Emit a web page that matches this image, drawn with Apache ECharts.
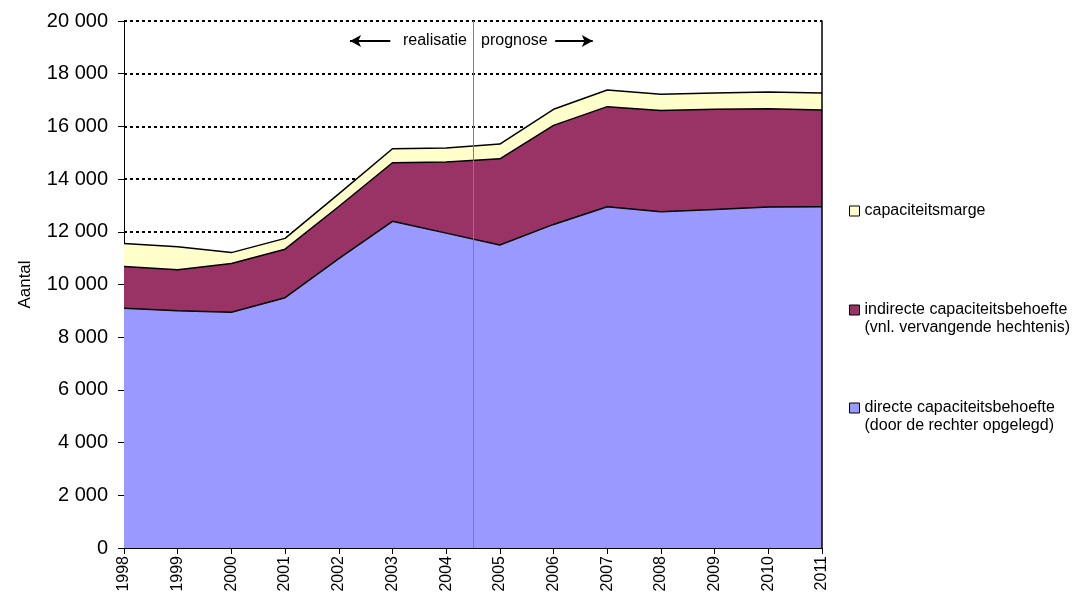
<!DOCTYPE html>
<html>
<head>
<meta charset="utf-8">
<script src="https://cdn.jsdelivr.net/npm/echarts@6/dist/echarts.min.js"></script>
<style>
  html, body { margin: 0; padding: 0; background: #fff; }
  #chart { width: 1085px; height: 596px; }
</style>
</head>
<body>
<div id="chart"></div>
<script>
// jaren (x-as)
const years = ["1998", "1999", "2000", "2001", "2002", "2003", "2004", "2005", "2006", "2007", "2008", "2009", "2010", "2011"];
// directe capaciteitsbehoefte
const direct = [9100, 9000, 8950, 9500, 10980, 12400, 11950, 11500, 12280, 12950, 12760, 12850, 12940, 12950];
// indirecte capaciteitsbehoefte
const indirect = [1580, 1560, 1850, 1840, 1980, 2220, 2700, 3270, 3760, 3800, 3840, 3800, 3730, 3670];
// capaciteitsmarge
const marge = [880, 870, 410, 410, 480, 530, 530, 560, 610, 630, 620, 620, 640, 650];
// y-as ticks
const yTicks = [0, 2000, 4000, 6000, 8000, 10000, 12000, 14000, 16000, 18000, 20000];

const FONT = "Liberation Sans";
const names = {
    marge: "capaciteitsmarge",
    indirect: "indirecte capaciteitsbehoefte\n(vnl. vervangende hechtenis)",
    direct: "directe capaciteitsbehoefte\n(door de rechter opgelegd)",
};

const fmt = v => String(v).replace(/\B(?=(\d{3})+(?!\d))/g, " ");

const area = (name, arr, color) => ({
    name,
    type: "line",
    stack: "totaal",
    data: arr,
    symbol: "none",
    lineStyle: { color: "#000", width: 1.5 },
    areaStyle: { color, opacity: 1 },
    itemStyle: { color, borderColor: "#000", borderWidth: 1 },
    emphasis: { disabled: true },
    animation: false,
});

// tweeregelige items: lege eerste regel zodat het icoon bij de eerste tekstregel staat
const legendItem = (name, top) => ({
    data: [name],
    orient: "vertical",
    left: 844,
    top,
    icon: "rect",
    itemWidth: 10,
    itemHeight: 10,
    itemGap: 0,
    selectedMode: false,
    formatter: n => (n.includes("\n") ? "\n" + n : n),
    itemStyle: { borderColor: "#000", borderWidth: 1 },
    textStyle: { fontFamily: FONT, fontSize: 16, color: "#000", lineHeight: 18 },
});

const chart = echarts.init(document.getElementById("chart"), null, { renderer: "canvas" });

chart.setOption({
    animation: false,
    backgroundColor: "#fff",
    textStyle: { fontFamily: FONT },
    grid: { left: 124, right: 263, top: 21, bottom: 48 },
    legend: [
        legendItem(names.marge, 197),
        legendItem(names.indirect, 278),
        legendItem(names.direct, 376),
    ],
    xAxis: [
        {
            type: "category",
            data: years,
            boundaryGap: false,
            axisLine: { show: true, lineStyle: { color: "#000", width: 1 } },
            axisTick: { show: true, length: 6, alignWithLabel: true, lineStyle: { color: "#000" } },
            splitLine: { show: false },
            axisLabel: {
                rotate: 90,
                margin: 8,
                interval: 0,
                fontFamily: FONT,
                fontSize: 16,
                color: "#000",
            },
        },
        {
            // hulpas voor de scheidingslijn en pijlen
            type: "value",
            min: Number(years[0]),
            max: Number(years[years.length - 1]),
            show: false,
        },
    ],
    yAxis: [
        {
            type: "value",
            min: yTicks[0],
            max: yTicks[yTicks.length - 1],
            interval: 2000,
            name: "Aantal",
            nameLocation: "middle",
            nameRotate: 90,
            nameGap: 90,
            nameTextStyle: { fontFamily: FONT, fontSize: 17, color: "#000" },
            axisLine: { show: true, lineStyle: { color: "#000", width: 1 } },
            axisTick: { show: true, length: 6, lineStyle: { color: "#000" } },
            splitLine: { show: true, lineStyle: { color: "#000", width: 2, type: [3, 3] } },
            axisLabel: {
                margin: 16,
                fontFamily: FONT,
                fontSize: 20,
                color: "#000",
                formatter: v => fmt(v),
            },
        },
        {
            type: "value",
            position: "right",
            min: 0,
            max: 20000,
            interval: 2000,
            z: 10,
            axisLine: { show: true, lineStyle: { color: "#000", width: 1.5 } },
            axisTick: { show: false },
            axisLabel: { show: false },
            splitLine: { show: false },
        },
    ],
    graphic: [
        {
            type: "text",
            x: 467,
            y: 41,
            style: {
                text: "realisatie",
                fontFamily: FONT,
                fontSize: 16,
                fill: "#000",
                align: "right",
                verticalAlign: "middle",
            },
        },
        {
            type: "text",
            x: 481,
            y: 41,
            style: {
                text: "prognose",
                fontFamily: FONT,
                fontSize: 16,
                fill: "#000",
                align: "left",
                verticalAlign: "middle",
            },
        },
    ],
    series: [
        area(names.direct, direct, "#9999FF"),
        area(names.indirect, indirect, "#993366"),
        area(names.marge, marge, "#FFFFCC"),
        {
            type: "line",
            xAxisIndex: 1,
            yAxisIndex: 0,
            data: [],
            z: 5,
            silent: true,
            markLine: {
                silent: true,
                animation: false,
                label: { show: false },
                data: [
                    [
                        { coord: [2004.5, 0], symbol: "none", lineStyle: { color: "#808080", width: 1, type: "solid" } },
                        { coord: [2004.5, 20000], symbol: "none" },
                    ],
                    [
                        { coord: [2002.96, 19240], symbol: "none", lineStyle: { color: "#000", width: 2, type: "solid" } },
                        { coord: [2002.21, 19240], symbol: "arrow", symbolSize: [9, 11] },
                    ],
                    [
                        { coord: [2006.03, 19240], symbol: "none", lineStyle: { color: "#000", width: 2, type: "solid" } },
                        { coord: [2006.73, 19240], symbol: "arrow", symbolSize: [9, 11] },
                    ],
                ],
            },
        },
    ],
});
</script>
</body>
</html>
